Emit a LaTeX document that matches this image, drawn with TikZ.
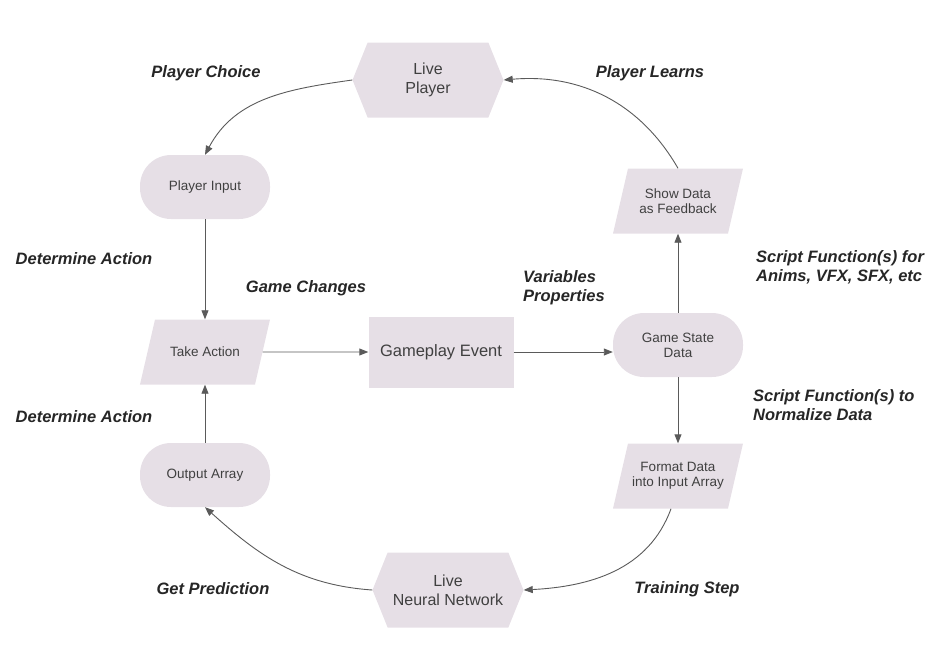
\documentclass[tikz,border=0pt]{standalone}
\usepackage{fontspec}
\setmainfont{Liberation Sans}
\usetikzlibrary{shapes.geometric,shapes.symbols,arrows.meta}
\definecolor{boxfill}{RGB}{230,223,230}
\definecolor{boxtext}{RGB}{64,64,64}
\definecolor{notetext}{RGB}{38,38,38}
\definecolor{linegray}{RGB}{90,90,90}

\begin{document}
\begin{tikzpicture}[x=1pt, y=-1pt]
  \tikzstyle{hexa} = [signal, signal to=west and east, signal pointer angle=136, fill=boxfill,
                      minimum width=151pt, minimum height=75pt, inner sep=0pt, text=boxtext,
                      align=center, font=\fontsize{16}{19}\selectfont]
  \tikzstyle{stadium} = [rectangle, rounded corners=31pt, fill=boxfill, minimum width=130pt,
                         minimum height=64pt, text=boxtext, align=center,
                         font=\fontsize{13.5}{15}\selectfont]
  \tikzstyle{para} = [trapezium, trapezium left angle=77, trapezium right angle=103,
                      fill=boxfill, inner xsep=0pt, inner ysep=13.5pt, text=boxtext,
                      font=\fontsize{13.5}{15}\selectfont,
                      execute at begin node={\begin{minipage}[c][38pt][c]{100pt}\centering},
                      execute at end node={\end{minipage}}]
  \tikzstyle{event} = [rectangle, fill=boxfill, minimum width=145pt, minimum height=71pt,
                       text=boxtext, font=\fontsize{16.5}{19}\selectfont]
  \tikzstyle{note} = [text=notetext, align=left, inner sep=0pt,
                      font=\fontsize{16.5}{19}\selectfont\bfseries\itshape]
  \tikzstyle{flow} = [-{Triangle[length=9pt, width=7pt]}, draw=linegray, line width=0.9pt]
\path[use as bounding box] (0,0) rectangle (948,665);
\node[para] (take) at (205,352) {Take Action};
\node[stadium, above of=take, node distance=165pt](input){Player Input};
\node[stadium, below of=take, node distance=123pt](output){Output Array};
\node[event, right of=take, node distance=236pt](event){Gameplay Event};
\node[stadium, right of=event, node distance=237pt, yshift=7pt](state){Game State\\Data};
\node[para, above of=state, node distance=144pt](show){Show Data\\as Feedback};
\node[para, below of=state, node distance=131pt](format){Format Data\\into Input Array};
\node[hexa, above of=event, node distance=272pt, xshift=-13pt](player){Live\\Player};
\node[hexa, below of=event, node distance=238pt, xshift=7pt](net){Live\\Neural Network};
% labels
\node[note] (choice) at (206,73) {Player Choice};
\node[note] (learns) at (650,73) {Player Learns};
\node[note] (det1) at (84,259) {Determine Action};
\node[note] (changes) at (306,288) {Game Changes};
\node[note, anchor=west] (vars) at (523,288) {Variables\\Properties};
\node[note, anchor=west] (anims) at (756,267) {Script Function(s) for\\Anims, VFX, SFX, etc};
\node[note, anchor=west] (norm) at (753,405) {Script Function(s) to\\Normalize Data};
\node[note] (det2) at (84,417) {Determine Action};
\node[note] (predict) at (213,589) {Get Prediction};
\node[note] (train) at (687,589) {Training Step};
% connectors
\draw[flow] (player.west) to[out=188, in=62] (input.north);
\draw[flow] (input) -- (take);
\draw[flow] (output) -- (take);
\draw[flow] (take) -- (event);
\draw[flow] (event) -- (event -| state.west);
\draw[flow] (state) -- (show);
\draw[flow] (state) -- (format);
\draw[flow] (show.north) to[out=120, in=5] (player.east);
\draw[flow] ([xshift=-7pt]format.south) to[out=-110, in=3] (net.east);
\draw[flow] (net.west) to[out=176, in=-42] (output.south);
\end{tikzpicture}
\end{document}
